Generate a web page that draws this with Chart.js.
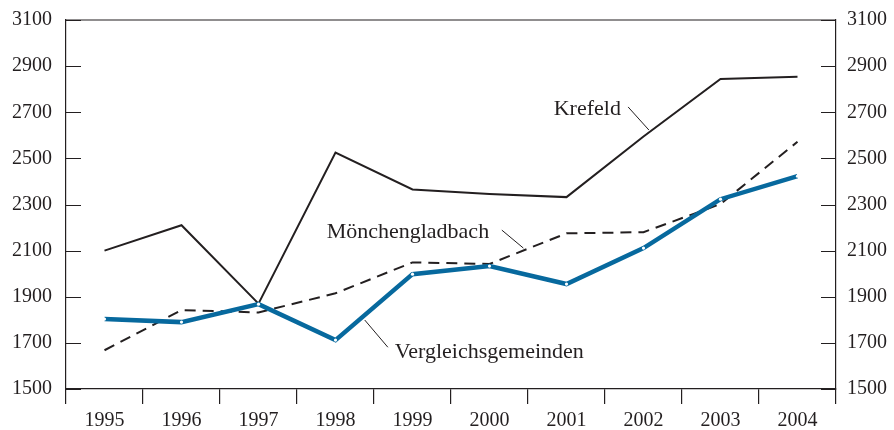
<!DOCTYPE html>
<html>
<head>
<meta charset="utf-8">
<script src="https://cdn.jsdelivr.net/npm/chart.js@4/dist/chart.umd.min.js"></script>
<style>
  html, body { margin: 0; padding: 0; background: #fff; }
  #wrap { width: 894px; height: 430px; }
</style>
</head>
<body>
<div id="wrap"><canvas id="myChart" width="894" height="430"></canvas></div>
<script>
const years = ['1995', '1996', '1997', '1998', '1999', '2000', '2001', '2002', '2003', '2004'];
const krefeld = [2100, 2210, 1870, 2525, 2365, 2345, 2332, 2595, 2844, 2854];
const moenchengladbach = [1668, 1842, 1832, 1915, 2049, 2042, 2175, 2180, 2302, 2572];
const vergleich = [1803, 1790, 1868, 1712, 1998, 2033, 1955, 2111, 2323, 2423];
const yTicks = [1500, 1700, 1900, 2100, 2300, 2500, 2700, 2900, 3100];

// label anchors in data space: [category index, value]
const labels = [
  { text: 'Krefeld', at: [6.27, 2712], align: 'center', line: [[6.80, 2723], [7.07, 2623]] },
  { text: 'Mönchengladbach', at: [3.94, 2180], align: 'center', line: [[5.16, 2189], [5.44, 2111]] },
  { text: 'Vergleichsgemeinden', at: [3.77, 1660], align: 'left', line: [[3.68, 1681], [3.38, 1799]] }
];

const FONT = '"Liberation Serif", "DejaVu Serif", serif';
const INK = '#231f20';

// inward ticks, top border and the text labels
const decor = {
  id: 'decor',
  afterDraw(chart) {
    const ctx = chart.ctx;
    const a = chart.chartArea;
    const x = chart.scales.x, y = chart.scales.y;
    ctx.save();
    ctx.strokeStyle = INK;
    ctx.lineWidth = 1.2;
    ctx.beginPath();
    ctx.moveTo(a.left, a.top); ctx.lineTo(a.right, a.top);
    yTicks.forEach(v => {
      const py = Math.round(y.getPixelForValue(v)) + 0.5;
      ctx.moveTo(a.left, py); ctx.lineTo(a.left + 15, py);
      ctx.moveTo(a.right, py); ctx.lineTo(a.right - 15, py);
    });
    ctx.stroke();

    ctx.fillStyle = INK;
    ctx.font = '22px ' + FONT;
    ctx.textBaseline = 'middle';
    ctx.lineWidth = 1;
    labels.forEach(l => {
      ctx.textAlign = l.align;
      ctx.fillText(l.text, x.getPixelForValue(l.at[0]), y.getPixelForValue(l.at[1]));
      ctx.beginPath();
      ctx.moveTo(x.getPixelForValue(l.line[0][0]), y.getPixelForValue(l.line[0][1]));
      ctx.lineTo(x.getPixelForValue(l.line[1][0]), y.getPixelForValue(l.line[1][1]));
      ctx.stroke();
    });
    ctx.restore();
  }
};

function fitY(width) {
  return s => { s.width = width; s.paddingTop = 0; s.paddingBottom = 0; };
}

const ctx = document.getElementById('myChart').getContext('2d');
const chart = new Chart(ctx, {
  type: 'line',
  data: {
    labels: years,
    datasets: [
      { label: 'Krefeld', data: krefeld, borderColor: INK, borderWidth: 2, pointRadius: 0, tension: 0, order: 3 },
      { label: 'Mönchengladbach', data: moenchengladbach, borderColor: INK, borderWidth: 2, borderDash: [11, 7], pointRadius: 0, tension: 0, order: 2 },
      { label: 'Vergleichsgemeinden', data: vergleich, borderColor: '#07699e', borderWidth: 4.5,
        pointRadius: 1.6, pointBackgroundColor: '#ffffff', pointBorderWidth: 0, tension: 0, order: 1 }
    ]
  },
  options: {
    responsive: false,
    animation: false,
    layout: { padding: { top: 20, right: 0, bottom: 0, left: 0 } },
    plugins: { legend: { display: false }, tooltip: { enabled: false } },
    scales: {
      x: {
        offset: true,
        grid: { offset: true, drawOnChartArea: false, drawTicks: true, tickLength: 15, color: INK, lineWidth: 1.2 },
        border: { display: true, color: INK, width: 1.2 },
        ticks: { color: INK, font: { family: FONT, size: 20 }, padding: 5, maxRotation: 0 },
        afterFit(s) { s.height = 41; s.paddingLeft = 0; s.paddingRight = 0; }
      },
      y: {
        position: 'left',
        min: 1500, max: 3100,
        afterBuildTicks(s) { s.ticks = yTicks.map(v => ({ value: v })); },
        grid: { display: false, drawTicks: false },
        border: { display: true, color: INK, width: 1.2 },
        ticks: { color: INK, font: { family: FONT, size: 20 }, padding: 14, callback: v => String(v) },
        afterFit: fitY(66)
      },
      y2: {
        position: 'right',
        min: 1500, max: 3100,
        afterBuildTicks(s) { s.ticks = yTicks.map(v => ({ value: v })); },
        grid: { display: false, drawTicks: false },
        border: { display: true, color: INK, width: 1.2 },
        ticks: { color: INK, font: { family: FONT, size: 20 }, padding: 11, callback: v => String(v) },
        afterFit: fitY(58)
      }
    }
  },
  plugins: [decor]
});
</script>
</body>
</html>
